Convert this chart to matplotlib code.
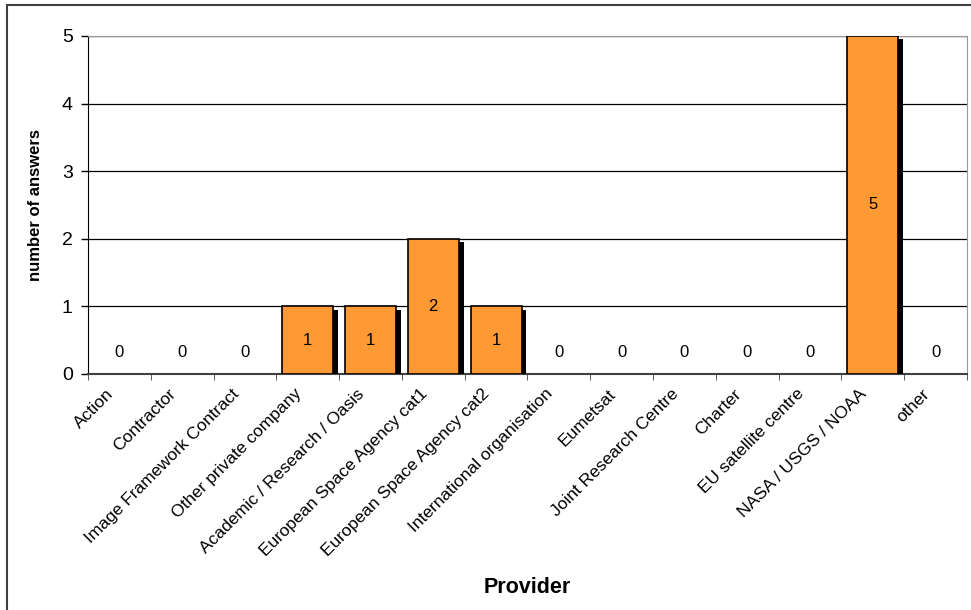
import matplotlib.pyplot as plt
import matplotlib.patheffects as pe
import matplotlib.transforms as mtransforms
from matplotlib.patches import Rectangle
import numpy as np

plt.rcParams['font.family'] = ['Liberation Sans', 'DejaVu Sans']

# ==========================================
# DATA
# ==========================================

providers = [
    "Action",
    "Contractor",
    "Image Framework Contract",
    "Other private company",
    "Academic / Research / Oasis",
    "European Space Agency cat1",
    "European Space Agency cat2",
    "International organisation",
    "Eumetsat",
    "Joint Research Centre",
    "Charter",
    "EU satellite centre",
    "NASA / USGS / NOAA",
    "other",
]
answers = [0, 0, 0, 1, 1, 2, 1, 0, 0, 0, 0, 0, 5, 0]

# ==========================================
# FIGURE
# ==========================================

fig = plt.figure(figsize=(9.71, 6.10), dpi=100)
fig.patches.append(Rectangle((0.007, -0.1), 1.2, 1.092, transform=fig.transFigure,
                             fill=False, edgecolor="#404040", linewidth=1.5))

ax = fig.add_axes([0.0906, 0.3869, 0.9053, 0.5541])

x = np.arange(len(providers))

bars = ax.bar(
    x,
    answers,
    width=0.81,
    color="#FF9933",
    edgecolor="black",
    linewidth=1.2,
    zorder=3,
)
for b, v in zip(bars, answers):
    if v == 0:
        b.set_visible(False)
        continue
    b.set_path_effects([
        pe.SimplePatchShadow(offset=(3.5, -2.5), shadow_rgbFace="black", alpha=1.0),
        pe.Normal(),
    ])

for xi, v in zip(x, answers):
    y = v / 2 if v > 0 else 0.32
    ax.text(xi, y, str(v), ha="center", va="center", fontsize=12, zorder=4)

ax.set_xlim(-0.5, len(providers) - 0.5)
ax.set_ylim(0, 5)
ax.set_yticks(range(0, 6))
ax.tick_params(axis="y", labelsize=14, direction="out", length=5, width=1, pad=6)

ax.set_xticks(x)
ax.set_xticklabels(providers, rotation=45, ha="right", rotation_mode="anchor", fontsize=12.5)
ax.set_xticks(np.arange(-0.5, len(providers), 1), minor=True)
ax.tick_params(axis="x", which="major", length=0, pad=3)
ax.tick_params(axis="x", which="minor", length=4, direction="out", color="#404040")

shift = mtransforms.ScaledTranslation(-0.14, -0.08, fig.dpi_scale_trans)
for lbl in ax.get_xticklabels():
    lbl.set_transform(lbl.get_transform() + shift)

ax.yaxis.grid(True, color="black", linewidth=0.9, zorder=0)
ax.set_axisbelow(True)

ax.spines["left"].set_color("black")
ax.spines["bottom"].set_color("#404040")
ax.spines["bottom"].set_linewidth(1.5)
ax.spines["top"].set_color("#999999")
ax.spines["right"].set_color("#999999")

ax.set_ylabel("number of answers", fontsize=12, fontweight="bold")
ax.yaxis.set_label_coords(-0.051, 0.5)
ax.set_xlabel("Provider", fontsize=15.5, fontweight="bold")
ax.xaxis.set_label_coords(0.5, -0.60)

fig.savefig("out.png", dpi=100)
